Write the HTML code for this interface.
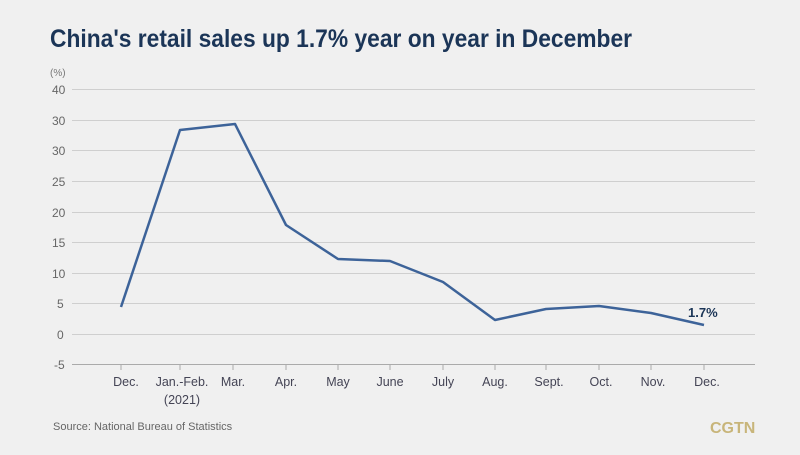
<!DOCTYPE html>
<html><head><style>
body{margin:0;width:800px;height:450px;background:#f0f0f0;overflow:hidden;font-family:"Liberation Sans",sans-serif}
</style></head><body>
<svg width="800" height="450" xmlns="http://www.w3.org/2000/svg">
<rect width="800" height="450" fill="#f0f0f0"/>
<text x="50" y="47" font-size="25" font-weight="bold" fill="#1b3557" textLength="582" lengthAdjust="spacingAndGlyphs">China's retail sales up 1.7% year on year in December</text>
<text x="50" y="76" font-size="10" fill="#777">(%)</text>
<g stroke="#cfcfcf" stroke-width="1">
<line x1="72" y1="89.5" x2="755" y2="89.5"/>
<line x1="72" y1="120.5" x2="755" y2="120.5"/>
<line x1="72" y1="150.5" x2="755" y2="150.5"/>
<line x1="72" y1="181.5" x2="755" y2="181.5"/>
<line x1="72" y1="212.5" x2="755" y2="212.5"/>
<line x1="72" y1="242.5" x2="755" y2="242.5"/>
<line x1="72" y1="273.5" x2="755" y2="273.5"/>
<line x1="72" y1="303.5" x2="755" y2="303.5"/>
<line x1="72" y1="334.5" x2="755" y2="334.5"/>
</g>
<line x1="72" y1="364.5" x2="755" y2="364.5" stroke="#aaa" stroke-width="1"/>
<g stroke="#aaa"><line x1="121" y1="365" x2="121" y2="370"/><line x1="180" y1="365" x2="180" y2="370"/><line x1="233" y1="365" x2="233" y2="370"/><line x1="286" y1="365" x2="286" y2="370"/><line x1="338" y1="365" x2="338" y2="370"/><line x1="390" y1="365" x2="390" y2="370"/><line x1="443" y1="365" x2="443" y2="370"/><line x1="495" y1="365" x2="495" y2="370"/><line x1="546" y1="365" x2="546" y2="370"/><line x1="599" y1="365" x2="599" y2="370"/><line x1="651" y1="365" x2="651" y2="370"/><line x1="704" y1="365" x2="704" y2="370"/></g>
<g font-size="12" fill="#666">
<text x="52" y="94">40</text><text x="52" y="125">30</text><text x="52" y="155">30</text><text x="52" y="186">25</text><text x="52" y="217">20</text><text x="52" y="247">15</text><text x="52" y="278">10</text><text x="57" y="308">5</text><text x="57" y="339">0</text><text x="54" y="369">-5</text>
</g>
<g font-size="12.5" fill="#445" text-anchor="middle">
<text x="126" y="386">Dec.</text><text x="182" y="386">Jan.-Feb.</text><text x="182" y="404">(2021)</text><text x="233" y="386">Mar.</text><text x="286" y="386">Apr.</text><text x="338" y="386">May</text><text x="390" y="386">June</text><text x="443" y="386">July</text><text x="495" y="386">Aug.</text><text x="549" y="386">Sept.</text><text x="601" y="386">Oct.</text><text x="653" y="386">Nov.</text><text x="707" y="386">Dec.</text>
</g>
<polyline fill="none" stroke="#3d6399" stroke-width="2.5" stroke-linejoin="round" points="121,307 180,130 235,124 286,225 338,259 390,261 443,282 495,320 546,309 599,306 651,313 704,325"/>
<text x="688" y="317" font-size="13" font-weight="bold" fill="#1b3557">1.7%</text>
<text x="53" y="430" font-size="11" fill="#666">Source: National Bureau of Statistics</text>
<text x="710" y="433" font-size="16" font-weight="bold" fill="#c8b57a">CGTN</text>
</svg>
</body></html>
